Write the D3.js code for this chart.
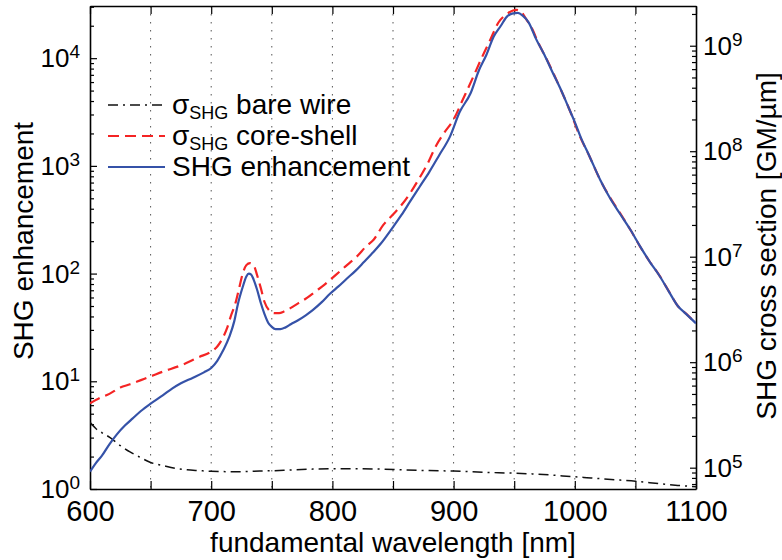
<!DOCTYPE html>
<html>
<head>
<meta charset="utf-8">
<script src="https://cdn.jsdelivr.net/npm/d3@7"></script>
<style>
  html, body { margin: 0; padding: 0; background: #fff; }
  svg { display: block; font-family: "Liberation Sans", Arial, Helvetica, sans-serif; }
</style>
</head>
<body>
<svg id="chart" width="782" height="560"></svg>
<script>
// SHG enhancement (left axis)
const wlEnh = [600, 605, 610, 616, 622, 629, 635, 642, 650, 660, 668, 675, 685, 694, 700, 705, 710, 715, 719, 722, 726, 729, 731, 733, 735, 738, 741, 744, 747, 750, 753, 757, 761, 766, 771, 778, 784, 791, 798, 805, 812, 819, 826, 833, 840, 850, 857, 864, 872, 880, 888, 897, 905, 914, 921, 927, 933, 939, 944, 949, 953, 957, 962, 968, 975, 982, 988, 995, 1000, 1005, 1012, 1021, 1029, 1037, 1046, 1054, 1062, 1070, 1078, 1085, 1092, 1100];
const shgEnhancement = [1.45, 1.75, 2.05, 2.6, 3.2, 3.9, 4.5, 5.3, 6.2, 7.4, 8.6, 9.6, 10.8, 12.1, 13.3, 15.5, 19.5, 26, 36, 52, 75, 94, 100, 98, 88, 70, 53, 42, 35, 32, 30.5, 30.5, 31.5, 34, 36.5, 41, 46, 54, 65, 76, 90, 106, 128, 155, 190, 270, 350, 465, 640, 880, 1250, 1870, 3160, 4720, 7760, 10700, 15800, 20000, 24300, 26100, 26300, 24800, 21400, 15100, 10700, 7240, 5250, 3450, 2550, 1830, 1236, 740, 503, 363, 254, 178, 128, 95, 67, 50, 42, 34.5];

// sigma_SHG core-shell (right axis, GM/um)
const wlCore = [600, 608, 616, 625, 633, 642, 650, 660, 675, 690, 700, 705, 710, 713, 716, 720, 723, 726, 729, 732, 735, 738, 741, 744, 748, 752, 756, 760, 765, 772, 779, 786, 793, 800, 806, 813, 820, 828, 834, 842, 850, 857, 864, 871, 878, 886, 892, 900, 908, 916, 923, 930, 937, 944, 949, 952, 956, 960, 964, 970, 975, 980, 988, 996, 1004, 1012, 1021, 1030, 1038, 1046, 1054, 1062, 1070, 1078, 1085, 1092, 1100];
const sigmaCoreShell = [4.07e5, 4.57e5, 5.01e5, 5.75e5, 6.17e5, 6.76e5, 7.33e5, 8.13e5, 9.33e5, 1.12e6, 1.26e6, 1.41e6, 1.74e6, 2.09e6, 2.69e6, 3.63e6, 5.01e6, 6.92e6, 8.32e6, 8.71e6, 8.32e6, 6.61e6, 5.01e6, 3.72e6, 3.09e6, 2.92e6, 2.92e6, 3.02e6, 3.24e6, 3.63e6, 4.07e6, 4.68e6, 5.37e6, 6.31e6, 7.24e6, 8.51e6, 1.0e7, 1.26e7, 1.45e7, 2.0e7, 2.51e7, 3.09e7, 3.98e7, 5.37e7, 7.41e7, 1.15e8, 1.48e8, 2.0e8, 3.16e8, 5.01e8, 7.59e8, 1.12e9, 1.66e9, 2.0e9, 2.16e9, 2.19e9, 2.09e9, 1.78e9, 1.51e9, 1.06e9, 8.17e8, 6.26e8, 3.94e8, 2.42e8, 1.40e8, 9.0e7, 5.33e7, 3.50e7, 2.52e7, 1.79e7, 1.24e7, 8.91e6, 6.59e6, 4.62e6, 3.41e6, 2.87e6, 2.33e6];

// sigma_SHG bare wire (right axis, GM/um)
const wlBare = [600, 605, 610, 616, 625, 633, 641, 650, 660, 670, 680, 690, 700, 720, 740, 760, 780, 800, 820, 840, 860, 880, 900, 925, 950, 970, 990, 1010, 1030, 1050, 1070, 1085, 1100];
const sigmaBareWire = [2.69e5, 2.34e5, 2.14e5, 1.95e5, 1.62e5, 1.41e5, 1.26e5, 1.12e5, 1.05e5, 9.89e4, 9.55e4, 9.38e4, 9.23e4, 9.16e4, 9.29e4, 9.44e4, 9.66e4, 9.77e4, 9.77e4, 9.70e4, 9.51e4, 9.38e4, 9.29e4, 9.04e4, 8.87e4, 8.67e4, 8.36e4, 8.04e4, 7.73e4, 7.45e4, 7.05e4, 6.79e4, 6.61e4];

const xTicks = d3.range(600, 1101, 50);
const leftMajor = [1, 10, 100, 1000, 10000];
const rightMajor = [1e5, 1e6, 1e7, 1e8, 1e9];

const legendItems = [
    { sym: "σ", sub: "SHG", rest: " bare wire", color: "#111", dash: "10,5,2,5", width: 1.5 },
    { sym: "σ", sub: "SHG", rest: " core-shell", color: "#f42424", dash: "11,6", width: 2.2 },
    { sym: "", sub: "", rest: "SHG enhancement", color: "#3552a8", dash: null, width: 2.2 }
];

const width = 782, height = 560;
const plot = { left: 90, right: 696, top: 6, bottom: 489 };

const svg = d3.select("#chart");

const x = d3.scaleLinear().domain([600, 1100]).range([plot.left, plot.right]);
const yL = d3.scaleLog().domain([1, 3.05e4]).range([plot.bottom, plot.top]);
const yR = d3.scaleLog().domain([6.28e4, 2.38e9]).range([plot.bottom, plot.top]);

function minorTicks(domain) {
    const out = [];
    const lo = Math.floor(Math.log10(domain[0])), hi = Math.ceil(Math.log10(domain[1]));
    for (let k = lo; k <= hi; k++) {
        for (let m = 2; m <= 9; m++) {
            const v = m * Math.pow(10, k);
            if (v >= domain[0] && v <= domain[1]) out.push(v);
        }
    }
    return out;
}

svg.append("defs").append("clipPath").attr("id", "clip")
    .append("rect").attr("x", plot.left).attr("y", plot.top)
    .attr("width", plot.right - plot.left).attr("height", plot.bottom - plot.top);

// dotted vertical grid
svg.append("g").selectAll("line").data(xTicks.filter(d => d > 600 && d < 1100)).enter().append("line")
    .attr("x1", d => x(d)).attr("x2", d => x(d))
    .attr("y1", plot.top).attr("y2", plot.bottom)
    .attr("stroke", "#555").attr("stroke-width", 1).attr("stroke-dasharray", "1.5,6.5");

// x axes (bottom with labels, top ticks only)
const xAxisB = svg.append("g").attr("transform", `translate(0,${plot.bottom})`)
    .call(d3.axisBottom(x).tickValues(xTicks).tickSizeInner(-8).tickSizeOuter(0).tickPadding(11)
        .tickFormat(d => d % 100 === 0 ? d : ""));
xAxisB.selectAll("text").style("font-size", "29px").attr("fill", "#000");

svg.append("g").attr("transform", `translate(0,${plot.top})`)
    .call(d3.axisTop(x).tickValues(xTicks).tickSizeInner(-8).tickSizeOuter(0).tickFormat(""));

// left log axis
svg.append("g").attr("transform", `translate(${plot.left},0)`)
    .call(d3.axisLeft(yL).tickValues(leftMajor).tickSizeInner(-7).tickSizeOuter(0).tickFormat(""));
svg.append("g").attr("transform", `translate(${plot.left},0)`)
    .call(d3.axisLeft(yL).tickValues(minorTicks(yL.domain())).tickSizeInner(-4).tickSizeOuter(0).tickFormat(""))
    .select(".domain").remove();

// right log axis
svg.append("g").attr("transform", `translate(${plot.right},0)`)
    .call(d3.axisRight(yR).tickValues(rightMajor).tickSizeInner(-6).tickSizeOuter(0).tickFormat(""));
svg.append("g").attr("transform", `translate(${plot.right},0)`)
    .call(d3.axisRight(yR).tickValues(minorTicks(yR.domain())).tickSizeInner(-4).tickSizeOuter(0).tickFormat(""))
    .select(".domain").remove();

svg.selectAll(".domain").attr("stroke", "#000").attr("stroke-width", 1.6);
svg.selectAll(".tick line").attr("stroke", "#000").attr("stroke-width", 1.2);

// power-of-ten labels
function powLabel(g, val, xPos, anchor, yPos) {
    const t = g.append("text").attr("x", xPos).attr("y", yPos + 9)
        .attr("text-anchor", anchor).attr("fill", "#000").style("font-size", "26px");
    t.append("tspan").text("10");
    t.append("tspan").attr("dy", -9).style("font-size", "19px").text(Math.round(Math.log10(val)));
}
const gLabels = svg.append("g");
leftMajor.forEach(v => powLabel(gLabels, v, 80, "end", yL(v)));
rightMajor.forEach(v => powLabel(gLabels, v, 703, "start", yR(v)));

// axis titles
svg.append("text").attr("x", (plot.left + plot.right) / 2).attr("y", 552)
    .attr("text-anchor", "middle").style("font-size", "28px").text("fundamental wavelength [nm]");
svg.append("text").attr("transform", "translate(33,241) rotate(-90)")
    .attr("text-anchor", "middle").style("font-size", "28px").text("SHG enhancement");
svg.append("text").attr("transform", "translate(776,246) rotate(-90)")
    .attr("text-anchor", "middle").style("font-size", "28px").text("SHG cross section [GM/µm]");

// curves
const gLines = svg.append("g").attr("clip-path", "url(#clip)");
const lineL = d3.line().x(d => x(d[0])).y(d => yL(d[1])).curve(d3.curveMonotoneX);
const lineR = d3.line().x(d => x(d[0])).y(d => yR(d[1])).curve(d3.curveMonotoneX);

gLines.append("path").attr("d", lineR(d3.zip(wlBare, sigmaBareWire)))
    .attr("fill", "none").attr("stroke", legendItems[0].color).attr("stroke-width", legendItems[0].width)
    .attr("stroke-dasharray", legendItems[0].dash);
gLines.append("path").attr("d", lineR(d3.zip(wlCore, sigmaCoreShell)))
    .attr("fill", "none").attr("stroke", legendItems[1].color).attr("stroke-width", legendItems[1].width)
    .attr("stroke-dasharray", legendItems[1].dash);
gLines.append("path").attr("d", lineL(d3.zip(wlEnh, shgEnhancement)))
    .attr("fill", "none").attr("stroke", legendItems[2].color).attr("stroke-width", legendItems[2].width)
    .attr("stroke-linejoin", "round");

// legend
const legend = svg.append("g");
legendItems.forEach((d, i) => {
    const yy = 105 + i * 31;
    legend.append("line").attr("x1", 108).attr("x2", 165).attr("y1", yy).attr("y2", yy)
        .attr("stroke", d.color).attr("stroke-width", d.width).attr("stroke-dasharray", d.dash);
    const t = legend.append("text").attr("x", 172).attr("y", yy + 9).attr("fill", "#000").style("font-size", "28px");
    if (d.sym) {
        t.append("tspan").text(d.sym);
        t.append("tspan").attr("dy", 5).style("font-size", "18px").text(d.sub);
        t.append("tspan").attr("dy", -5).text(d.rest);
    } else {
        t.append("tspan").text(d.rest);
    }
});
</script>
</body>
</html>
